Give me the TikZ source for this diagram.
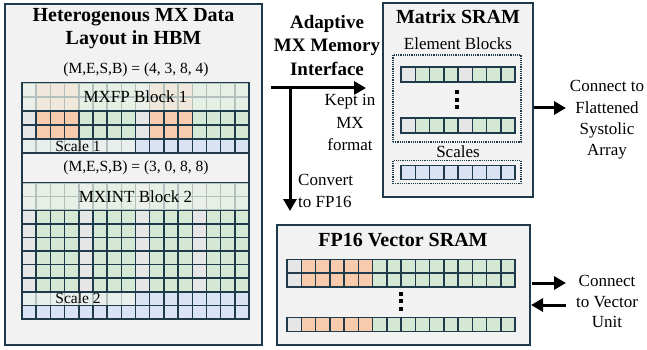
\documentclass[tikz,border=0pt]{standalone}
\usepackage{fontspec}
\setmainfont{Liberation Serif}
\usetikzlibrary{arrows.meta}
\definecolor{dk}{HTML}{1F3A4A}
\definecolor{boxfill}{HTML}{F2F2F2}
\definecolor{clgray}{HTML}{E7E6E6}
\definecolor{clor}{HTML}{F8CBAD}
\definecolor{clgr}{HTML}{D5E8D4}
\definecolor{clbl}{HTML}{DAE3F3}
\definecolor{fade}{HTML}{EEF4EC}
\tikzset{
  panel/.style={draw=dk, line width=1.5pt, fill=boxfill, inner sep=0pt},
  cell/.style={draw=dk, line width=1.5pt},
  ttl/.style={font=\fontsize{20}{23}\selectfont\bfseries, align=center, inner sep=0pt},
  lbl/.style={font=\fontsize{17}{21.5}\selectfont, align=center, inner sep=0pt},
  sml/.style={font=\fontsize{15.5}{18}\selectfont, inner sep=0pt},
  bigarrow/.style={draw=black, line width=3pt, -{Triangle[length=12pt,width=13pt]}},
  dotbox/.style={draw=dk, line width=1.2pt, dash pattern=on 1.2pt off 1pt},
  fadebox/.style={fill=fade, opacity=0.72},
  dotsq/.style={fill=black},
}
\def\rowfp{clgray,clor,clor,clor,clgr,clgr,clgr,clgr,clgray,clor,clor,clor,clgr,clgr,clgr,clgr}
\def\rowint{clgray,clgr,clgr,clgr,clgray,clgr,clgr,clgr,clgray,clgr,clgr,clgr,clgray,clgr,clgr,clgr}
\def\rowblue{clbl,clbl,clbl,clbl,clbl,clbl,clbl,clbl,clbl,clbl,clbl,clbl,clbl,clbl,clbl,clbl}
\def\rowhalf{clgray,clor,clor,clor,clor,clor,clgr,clgr,clgr,clgr,clgr,clgr,clgr,clgr,clgr,clgr}
\def\rowmat{clgray,clgr,clgr,clgr,clgray,clgr,clgr,clgr}
\def\rowsc{clbl,clbl,clbl,clbl,clbl,clbl,clbl,clbl}
\newcommand{\mxrow}[5]{\foreach \c [count=\i from 0] in #5 {\filldraw[cell, fill=\c] ({#1+\i*#3},{#2}) rectangle ++(#3,#4);}}
\begin{document}
\begin{tikzpicture}[x=1pt,y=-1pt]
\useasboundingbox (0,0) rectangle (647,350);
% ---------------- HBM panel
\node[panel, minimum width=257pt, minimum height=341pt] (hbm) at (133.5,174.5) {};
\node[ttl] (hbmt) at (133.5,28.5) {Heterogenous MX Data\\Layout in HBM};
\node[sml] (meb1) at (136,70) {(M,E,S,B) = (4, 3, 8, 4)};
% block 1
\foreach \r in {0,...,3} {\mxrow{22}{83+\r*14}{14.1875}{14}{\rowfp}}
\mxrow{22}{139}{14.1875}{14}{\rowblue}
\fill[fadebox] (22,83) rectangle (249,110.3);
\fill[fadebox] (22,139.7) rectangle (134.8,152.3);
\node[lbl] (blk1) at (135.5,97) {MXFP Block 1};
\node[sml] (sc1) at (78,146.5) {Scale 1};
\node[sml] (meb2) at (136,168) {(M,E,S,B) = (3, 0, 8, 8)};
% block 2
\foreach \r in {0,...,7} {\mxrow{22}{183+\r*13.6}{14.1875}{13.6}{\rowint}}
\foreach \r in {8,9} {\mxrow{22}{183+\r*13.6}{14.1875}{13.6}{\rowblue}}
\fill[fadebox] (22,183) rectangle (249,209.5);
\fill[fadebox] (22,292.5) rectangle (134.8,304.7);
\node[lbl] (blk2) at (135.5,196.6) {MXINT Block 2};
\node[sml] (sc2) at (78,298.6) {Scale 2};
\draw[dk, line width=1.5pt] (22,83) -- (22,319) -- (249,319) -- (249,83);
% ---------------- interface
\node[ttl, font=\fontsize{19}{23.5}\selectfont\bfseries] (ami) at (327,45.5) {Adaptive\\MX Memory\\Interface};
\coordinate (ifs) at (271,88);
\coordinate (ifk) at (290,88);
\coordinate (ife) at (366,88);
\coordinate (ifd) at (290,211);
\draw[bigarrow] (ifs) -- (ife);
\draw[bigarrow] (ifk) -- (ifd);
\node[lbl, font=\fontsize{17}{22.5}\selectfont] (kept) at (350,122.5) {Kept in\\MX\\format};
\node[lbl, align=left, anchor=west, font=\fontsize{17}{22}\selectfont] (conv) at (298,191) {Convert\\to FP16};
% ---------------- Matrix SRAM
\node[panel, minimum width=150pt, minimum height=194pt] (msram) at (458,100) {};
\node[ttl] (mst) at (458,17) {Matrix SRAM};
\node[lbl] (elb) at (458,44) {Element Blocks};
\node[dotbox, minimum width=128pt, minimum height=87pt, inner sep=0pt] (elbox) at (457,98.5) {};
\mxrow{401}{67}{14.25}{15}{\rowmat}
\mxrow{401}{118}{14.25}{15}{\rowmat}
\fill[dotsq] (455.3,90.3) rectangle ++(4,4);
\fill[dotsq] (455.3,98) rectangle ++(4,4);
\fill[dotsq] (455.3,105.3) rectangle ++(4,4);
\node[lbl] (scl) at (458,152) {Scales};
\node[dotbox, minimum width=128pt, minimum height=23pt, inner sep=0pt] (scbox) at (457,172) {};
\mxrow{401}{165.7}{14.25}{13.6}{\rowsc}
\coordinate (ma) at (534,108);
\coordinate (mb) at (566,108);
\draw[bigarrow] (ma) -- (mb);
\node[lbl, font=\fontsize{17}{21.3}\selectfont] (cfs) at (607,120) {Connect to\\Flattened\\Systolic\\Array};
% ---------------- FP16 vector SRAM
\node[panel, minimum width=253pt, minimum height=120pt] (vsram) at (403.5,285) {};
\node[ttl] (vst) at (403,240) {FP16 Vector SRAM};
\mxrow{287}{259.5}{14.25}{13.7}{\rowhalf}
\mxrow{287}{273.2}{14.25}{13.7}{\rowhalf}
\mxrow{287}{317.5}{14.25}{14}{\rowhalf}
\fill[dotsq] (399,291.5) rectangle ++(4,4);
\fill[dotsq] (399,299) rectangle ++(4,4);
\fill[dotsq] (399,306.5) rectangle ++(4,4);
\coordinate (va) at (532,283);
\coordinate (vb) at (566,283);
\coordinate (vc) at (566,305);
\coordinate (vd) at (531,305);
\draw[bigarrow] (va) -- (vb);
\draw[bigarrow] (vc) -- (vd);
\node[lbl, font=\fontsize{17}{20.5}\selectfont] (cvu) at (607,301.5) {Connect\\to Vector\\Unit};
\end{tikzpicture}
\end{document}
